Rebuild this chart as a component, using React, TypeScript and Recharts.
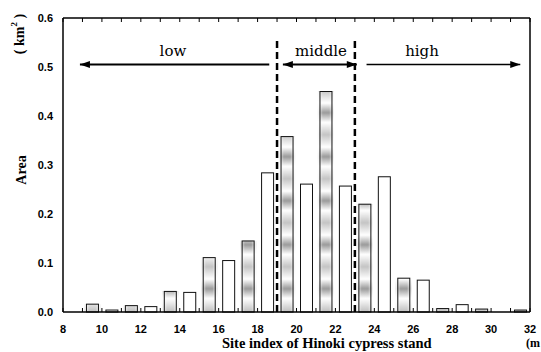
import React from 'react';
import { BarChart, Bar, XAxis, YAxis, ReferenceLine, ReferenceDot } from 'recharts';

// site index class centres (m) and stand area (km2)
const siteIndex = [9.5, 10.5, 11.5, 12.5, 13.5, 14.5, 15.5, 16.5, 17.5, 18.5, 19.5, 20.5, 21.5, 22.5, 23.5, 24.5, 25.5, 26.5, 27.5, 28.5, 29.5, 30.5, 31.5];
const areaKm2 = [0.016, 0.004, 0.013, 0.011, 0.042, 0.04, 0.111, 0.105, 0.145, 0.284, 0.358, 0.261, 0.45, 0.257, 0.22, 0.276, 0.069, 0.065, 0.007, 0.015, 0.006, 0, 0.004];

const xTicks = [8, 10, 12, 14, 16, 18, 20, 22, 24, 26, 28, 30, 32];
const minorTicks = [8, 9, 10, 11, 12, 13, 14, 15, 16, 17, 18, 19, 20, 21, 22, 23, 24, 25, 26, 27, 28, 29, 30, 31, 32];
const yTicks = [0, 0.1, 0.2, 0.3, 0.4, 0.5, 0.6];

// class boundaries and annotation positions (data units)
const classBounds = [19, 23];
const boundTop = 0.555;
const classNames = ['low', 'middle', 'high'];
const classRanges = [[8.87, 18.6], [19.3, 23.1], [23.6, 31.5]];
const classLabelX = [13.65, 21.26, 26.45];
const arrowY = 0.505;
const labelY = 0.533;

const data = siteIndex.map((s, i) => ({ site: s, area: areaKm2[i] }));

const sans = 'Liberation Sans, Arial, sans-serif';
const serif = 'Liberation Serif, Times New Roman, serif';

const XTick = (p: any) => (
  <text x={p.x} y={p.y} dy="0.71em" textAnchor="middle" fontFamily={sans} fontWeight={700} fontSize={11} fill="#000">
    {p.payload.value}
  </text>
);

const YTick = (p: any) => (
  <text x={p.x} y={p.y} dy="0.36em" textAnchor="end" fontFamily={sans} fontWeight={700} fontSize={11} fill="#000">
    {Number(p.payload.value).toFixed(1)}
  </text>
);

const BarShape = (props: any) => {
  const { x, y, width, height, index } = props;
  if (!height || height <= 0) return <g />;
  const shaded = index % 2 === 0;
  return (
    <g>
      {shaded && <rect x={x - 2} y={y} width={width + 4} height={height} fill="url(#bands)" />}
      {shaded && <rect x={x - 2} y={y} width={width + 4} height={height} fill="url(#edgeFade)" />}
      <rect x={x} y={y} width={width} height={height} fill={shaded ? 'none' : '#fff'} stroke="#111" strokeWidth={1} />
    </g>
  );
};

const arrow = (left: boolean, right: boolean, w: number) => (p: any) => {
  const { x1, y1, x2, y2 } = p;
  return (
    <g>
      <line x1={x1} y1={y1} x2={x2} y2={y2} stroke="#000" strokeWidth={w} />
      {left && <polygon points={`${x1},${y1} ${x1 + 10},${y1 - 3.5} ${x1 + 10},${y1 + 3.5}`} fill="#000" />}
      {right && <polygon points={`${x2},${y2} ${x2 - 10},${y2 - 3.5} ${x2 - 10},${y2 + 3.5}`} fill="#000" />}
    </g>
  );
};

const arrowShapes = [arrow(true, false, 2), arrow(true, true, 2), arrow(false, true, 1.5)];

export default function App() {
  return (
    <div style={{ position: 'absolute', left: 0, top: 0, background: '#fff' }}>
      <BarChart width={541} height={352} data={data} margin={{ top: 18, right: 11, left: 0, bottom: 0 }}>
        <defs>
          <linearGradient id="bandGrad" x1="0" y1="0" x2="0" y2="1">
            <stop offset="0" stopColor="#9a9a9a" />
            <stop offset="0.22" stopColor="#ffffff" />
            <stop offset="0.5" stopColor="#c4c4c4" />
            <stop offset="0.78" stopColor="#ffffff" />
            <stop offset="1" stopColor="#9a9a9a" />
          </linearGradient>
          <pattern id="bands" patternUnits="userSpaceOnUse" x="0" y="24.7" width="20" height="44">
            <rect width="20" height="44" fill="url(#bandGrad)" />
          </pattern>
          <linearGradient id="edgeFade" x1="0" y1="0" x2="1" y2="0">
            <stop offset="0" stopColor="#fff" stopOpacity={1} />
            <stop offset="0.3" stopColor="#fff" stopOpacity={0} />
            <stop offset="0.7" stopColor="#fff" stopOpacity={0} />
            <stop offset="1" stopColor="#fff" stopOpacity={1} />
          </linearGradient>
        </defs>
        <XAxis dataKey="site" type="number" domain={[8, 32]} ticks={xTicks} height={40}
          axisLine={{ stroke: '#000', strokeWidth: 1.5 }} tickLine={false} tickMargin={7} tick={<XTick />} interval={0} />
        <XAxis xAxisId="minor" dataKey="site" type="number" domain={[8, 32]} ticks={minorTicks} mirror
          axisLine={false} tickLine={{ stroke: '#000' }} tickSize={4} tickFormatter={() => ''} interval={0} />
        <XAxis xAxisId="top" orientation="top" dataKey="site" type="number" domain={[8, 32]} ticks={minorTicks} mirror
          axisLine={{ stroke: '#000', strokeWidth: 1.5 }} tickLine={{ stroke: '#000' }} tickSize={4} tickFormatter={() => ''} interval={0} />
        <YAxis domain={[0, 0.6]} ticks={yTicks} width={63} axisLine={{ stroke: '#000', strokeWidth: 1.5 }}
          tickLine={false} tickMargin={4} tick={<YTick />} interval={0} />
        <YAxis yAxisId="leftMinor" domain={[0, 0.6]} ticks={yTicks} mirror axisLine={false}
          tickLine={{ stroke: '#000' }} tickSize={5} tickFormatter={() => ''} interval={0} />
        <YAxis yAxisId="right" orientation="right" domain={[0, 0.6]} ticks={yTicks} mirror
          axisLine={{ stroke: '#000', strokeWidth: 1.5 }} tickLine={{ stroke: '#000' }} tickSize={5} tickFormatter={() => ''} interval={0} />
        <Bar dataKey="area" barSize={12} shape={BarShape} isAnimationActive={false} />
        {classBounds.map((b) => (
          <ReferenceLine key={b} segment={[{ x: b, y: 0 }, { x: b, y: boundTop }]} stroke="#000" strokeWidth={2.5} strokeDasharray="7 4" />
        ))}
        {classRanges.map((r, i) => (
          <ReferenceLine key={classNames[i]} segment={[{ x: r[0], y: arrowY }, { x: r[1], y: arrowY }]} shape={arrowShapes[i]} />
        ))}
        {classNames.map((n, i) => (
          <ReferenceDot key={n} x={classLabelX[i]} y={labelY} r={0}
            shape={(p: any) => (
              <text x={p.cx} y={p.cy} textAnchor="middle" dominantBaseline="central" fontFamily="DejaVu Serif, serif" fontSize={15} fill="#000">{n}</text>
            )} />
        ))}
        <text x={19} y={34} transform="rotate(-90 19 34)" textAnchor="middle" dominantBaseline="central" fontFamily={serif} fontWeight={700} fontSize={14}>
          ( km<tspan fontSize={9} dy={-5}>2</tspan><tspan dy={5}> )</tspan>
        </text>
        <text x={21} y={170} transform="rotate(-90 21 170)" textAnchor="middle" dominantBaseline="central" fontFamily={serif} fontWeight={700} fontSize={14}>Area</text>
        <text x={222} y={348} fontFamily={serif} fontWeight={700} fontSize={14.5}>Site index of Hinoki cypress stand</text>
        <text x={526} y={347} fontFamily={serif} fontWeight={700} fontSize={12}>(m</text>
      </BarChart>
    </div>
  );
}
